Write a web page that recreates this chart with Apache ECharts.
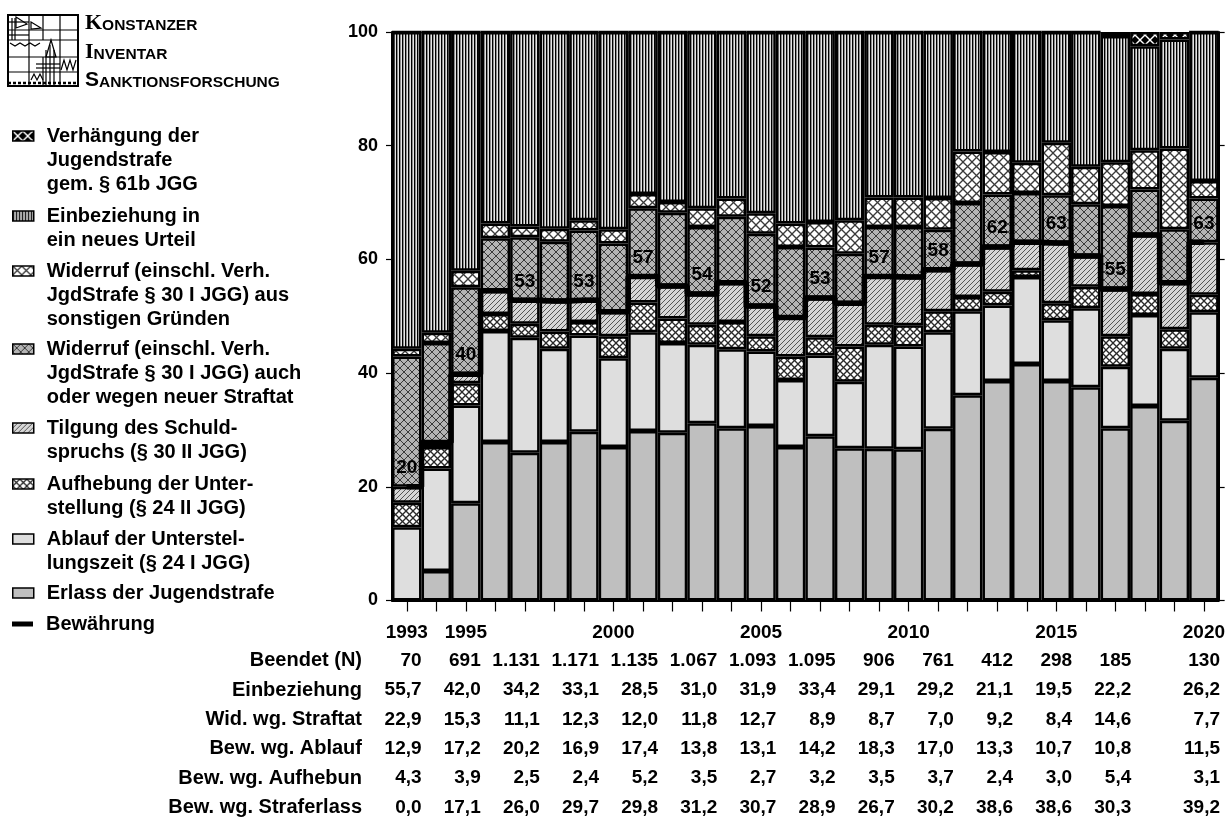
<!DOCTYPE html>
<html><head><meta charset="utf-8">
<script src="https://cdn.jsdelivr.net/npm/echarts@6/dist/echarts.min.js"></script>
<style>html,body{margin:0;padding:0;background:#fff}#c{width:1228px;height:822px}</style>
</head><body><div id="c"></div>
<script>
// ---------- DATA ----------
const years = ['1993','1994','1995','1996','1997','1998','1999','2000','2001','2002','2003','2004','2005','2006','2007','2008','2009','2010','2011','2012','2013','2014','2015','2016','2017','2018','2019','2020'];
const yearTickLabels = ['1993','1995','2000','2005','2010','2015','2020'];
const erlass       = [0.0, 5.2, 17.1, 27.9, 26.0, 27.9, 29.7, 27.0, 29.8, 29.5, 31.2, 30.3, 30.7, 27.0, 28.9, 26.8, 26.7, 26.6, 30.2, 36.1, 38.6, 41.6, 38.6, 37.5, 30.3, 34.2, 31.6, 39.2];
const ablauf       = [12.9, 18.0, 17.2, 19.5, 20.2, 16.4, 16.9, 15.6, 17.4, 15.8, 13.8, 13.9, 13.1, 11.8, 14.2, 11.7, 18.3, 18.1, 17.0, 14.8, 13.3, 15.3, 10.7, 13.9, 10.8, 16.0, 12.7, 11.5];
const aufhebung    = [4.3, 3.8, 3.9, 3.0, 2.5, 3.0, 2.4, 3.9, 5.2, 4.3, 3.5, 4.8, 2.7, 4.1, 3.2, 6.2, 3.5, 3.7, 3.7, 2.5, 2.4, 1.2, 3.0, 3.8, 5.4, 3.7, 3.4, 3.1];
const tilgung      = [2.8, 0.8, 1.6, 4.1, 4.1, 5.4, 3.8, 4.3, 4.6, 5.7, 5.4, 6.9, 5.3, 6.9, 6.9, 7.6, 8.5, 8.5, 7.3, 5.8, 7.9, 4.9, 10.6, 5.4, 8.3, 10.4, 8.2, 9.2];
const widStraftat  = [22.9, 17.5, 15.3, 9.2, 11.1, 10.4, 12.3, 12.0, 12.0, 12.9, 11.8, 11.6, 12.7, 12.4, 8.9, 8.7, 8.7, 8.8, 7.0, 10.7, 9.2, 8.7, 8.4, 9.1, 14.6, 8.0, 9.4, 7.7];
const widSonstige  = [1.4, 1.8, 2.9, 2.6, 1.9, 2.3, 1.8, 2.5, 2.5, 1.9, 3.3, 3.2, 3.6, 4.1, 4.5, 5.9, 5.2, 5.2, 5.6, 9.1, 7.5, 5.3, 9.2, 6.6, 7.7, 6.9, 14.2, 3.1];
const einbeziehung = [55.7, 52.9, 42.0, 33.7, 34.2, 34.6, 33.1, 34.7, 28.5, 29.9, 31.0, 29.3, 31.9, 33.7, 33.4, 33.1, 29.1, 29.1, 29.2, 21.0, 21.1, 23.0, 19.5, 23.7, 22.2, 18.3, 19.2, 26.2];
const verhaengung  = [0, 0, 0, 0, 0, 0, 0, 0, 0, 0, 0, 0, 0, 0, 0, 0, 0, 0, 0, 0, 0, 0, 0, 0, 0.7, 2.5, 1.3, 0];
const bewaehrung   = [20.0, 27.8, 39.8, 54.5, 52.8, 52.7, 52.8, 50.8, 57.0, 55.3, 53.9, 55.9, 51.8, 49.8, 53.2, 52.3, 57.0, 56.9, 58.2, 59.2, 62.2, 63.0, 62.9, 60.6, 54.8, 64.3, 55.9, 63.0];
const tableYears   = ['1993','1995','1997','1999','2001','2003','2005','2007','2009','2011','2013','2015','2017','2020'];
const beendetN     = [70, 691, 1131, 1171, 1135, 1067, 1093, 1095, 906, 761, 412, 298, 185, 130];
const tableRowNames = ['Beendet (N)', 'Einbeziehung', 'Wid. wg. Straftat', 'Bew. wg. Ablauf', 'Bew. wg. Aufhebun', 'Bew. wg. Straferlass'];
const legendText = {
  'Verhängung': 'Verhängung der\nJugendstrafe\ngem. § 61b JGG',
  'Einbeziehung': 'Einbeziehung in\nein neues Urteil',
  'WidSonstige': 'Widerruf (einschl. Verh.\nJgdStrafe § 30 I JGG) aus\nsonstigen Gründen',
  'WidStraftat': 'Widerruf (einschl. Verh.\nJgdStrafe § 30 I JGG) auch\noder wegen neuer Straftat',
  'Tilgung': 'Tilgung des Schuld-\nspruchs (§ 30 II JGG)',
  'Aufhebung': 'Aufhebung der Unter-\nstellung (§ 24 II JGG)',
  'Ablauf': 'Ablauf der Unterstel-\nlungszeit (§ 24 I JGG)',
  'Erlass': 'Erlass der Jugendstrafe',
  'Bewährung': 'Bewährung'
};

// ---------- PATTERNS ----------
const SANS = '"Liberation Sans", Arial, sans-serif';
function pattern(w, h, draw) {
  const c = document.createElement('canvas');
  c.width = w; c.height = h;
  const ctx = c.getContext('2d');
  draw(ctx, w, h);
  return { image: c, repeat: 'repeat' };
}
function cross(size, bg, fg, lw) {
  return pattern(size, size, (ctx, w) => {
    ctx.fillStyle = bg; ctx.fillRect(0, 0, w, w);
    ctx.strokeStyle = fg; ctx.lineWidth = lw;
    for (let k = -1; k <= 1; k++) {
      ctx.beginPath(); ctx.moveTo(k * w, 0); ctx.lineTo(k * w + w, w); ctx.stroke();
      ctx.beginPath(); ctx.moveTo(k * w, w); ctx.lineTo(k * w + w, 0); ctx.stroke();
    }
  });
}
const pVert = pattern(3, 4, (ctx, w, h) => {
  ctx.fillStyle = '#e4e4e4'; ctx.fillRect(0, 0, w, h);
  ctx.fillStyle = '#000'; ctx.fillRect(0, 0, 1, h);
  ctx.fillStyle = '#8c8c8c'; ctx.fillRect(1, 0, 1, h);
});
const pDiag = pattern(5, 5, (ctx, w) => {
  ctx.fillStyle = '#d6d6d6'; ctx.fillRect(0, 0, w, w);
  ctx.strokeStyle = '#555'; ctx.lineWidth = 1;
  for (let k = -1; k <= 1; k++) { ctx.beginPath(); ctx.moveTo(k * w, w); ctx.lineTo(k * w + w, 0); ctx.stroke(); }
});
const pStraftat = cross(8, '#b4b4b4', '#3a3a3a', 1);
const pSonstige = cross(9, '#ffffff', '#3a3a3a', 1.3);
const pAufhebung = cross(7, '#ffffff', '#2a2a2a', 1.3);
const pVerh = cross(10, '#000000', '#ffffff', 1.4);

// ---------- SERIES ----------
const barDefs = [
  ['Erlass', erlass, '#bfbfbf'],
  ['Ablauf', ablauf, '#dedede'],
  ['Aufhebung', aufhebung, pAufhebung],
  ['Tilgung', tilgung, pDiag],
  ['WidStraftat', widStraftat, pStraftat],
  ['WidSonstige', widSonstige, pSonstige],
  ['Einbeziehung', einbeziehung, pVert],
  ['Verhängung', verhaengung, pVerh]
];
const series = barDefs.map(([name, data, color]) => ({
  name, type: 'bar', stack: 'total', data,
  xAxisIndex: 0, yAxisIndex: 0,
  barCategoryGap: '0%',
  itemStyle: { color, borderColor: '#000', borderWidth: 2.5 },
  emphasis: { disabled: true },
  silent: true
}));
series.push({
  name: 'Bewährung', type: 'line', step: 'middle', z: 10,
  xAxisIndex: 0, yAxisIndex: 0,
  symbol: 'circle', symbolSize: 1, showSymbol: true,
  lineStyle: { color: '#000', width: 5.5 },
  itemStyle: { color: '#000' },
  emphasis: { disabled: true }, silent: true,
  data: bewaehrung.map((v, i) => ({
    value: v,
    label: {
      show: tableYears.includes(years[i]), position: 'top', distance: 9,
      formatter: p => String(Math.round(p.value)),
      fontFamily: SANS, fontWeight: 'bold', fontSize: 19, color: '#000'
    }
  }))
});

// table cells (custom series, positioned through the table grid's axes)
const fmtN = n => n >= 1000 ? Math.floor(n / 1000) + '.' + String(n % 1000).padStart(3, '0') : String(n);
const fmtP = v => v.toFixed(1).replace('.', ',');
const rowSources = [null, einbeziehung, widStraftat, ablauf, aufhebung, erlass];
const cells = [];
tableYears.forEach((y, c) => {
  const yi = years.indexOf(y);
  rowSources.forEach((src, r) => {
    cells.push({ yi, r, text: src ? fmtP(src[yi]) : fmtN(beendetN[c]) });
  });
});
series.push({
  type: 'custom', xAxisIndex: 1, yAxisIndex: 2, silent: true, clip: false,
  data: cells.map(c => [c.yi, c.r]),
  renderItem: (params, api) => {
    const cell = cells[params.dataIndex];
    const p = api.coord([api.value(0), api.value(1)]);
    const bw = api.size([1, 0])[0];
    return {
      type: 'text',
      style: {
        x: p[0] + bw / 2, y: p[1], text: cell.text,
        align: 'right', verticalAlign: 'middle',
        fontFamily: SANS, fontWeight: 'bold', fontSize: 19, fill: '#000'
      }
    };
  }
});

// ---------- LEGENDS ----------
const LH = 24;
const legendSpec = [
  ['Verhängung', 3, 136], ['Einbeziehung', 2, 216], ['WidSonstige', 3, 271],
  ['WidStraftat', 3, 349], ['Tilgung', 2, 428], ['Aufhebung', 2, 484],
  ['Ablauf', 2, 539], ['Erlass', 1, 593], ['Bewährung', 1, 624]
];
const legends = legendSpec.map(([key, lines, yc]) => ({
  show: true, data: [{ name: key, icon: 'rect' }],
  left: 12, top: yc - (2 * lines - 1) * LH / 2, orient: 'vertical', padding: 0,
  itemWidth: 21, itemHeight: key === 'Bewährung' ? 5 : 10,
  selectedMode: false,
  formatter: n => '\n'.repeat(lines - 1) + legendText[n],
  textStyle: {
    fontFamily: SANS, fontSize: 20, fontWeight: 'bold', color: '#000',
    lineHeight: LH, padding: [0, 0, 0, 8]
  },
  itemStyle: key === 'Bewährung' ? { borderWidth: 0 } : { borderColor: '#000', borderWidth: 1.5 }
}));

// ---------- LOGO ----------
const L = (x1, y1, x2, y2, w) => ({ type: 'line', shape: { x1, y1, x2, y2 }, style: { stroke: '#000', lineWidth: w || 1.2 }, silent: true });
const logo = [
  { type: 'rect', shape: { x: 8, y: 15, width: 70, height: 71 }, style: { fill: '#fff', stroke: '#000', lineWidth: 2 }, silent: true },
  L(29, 15, 29, 86), L(43, 15, 43, 40), L(60, 15, 60, 86), L(8, 30, 78, 30),
  L(8, 40, 78, 40), L(8, 57, 78, 57), L(8, 72, 78, 72), L(43, 57, 43, 86),
  L(46, 50, 46, 86), L(50, 45, 50, 86), L(54, 50, 54, 86), L(36, 64, 60, 64), L(36, 68, 60, 68),
  L(12, 18, 12, 40), L(15, 18, 15, 40), L(8, 35, 29, 35), L(8, 22, 29, 22),
  { type: 'polygon', shape: { points: [[46, 57], [51, 40], [56, 57]] }, style: { fill: 'none', stroke: '#000', lineWidth: 1.2 }, silent: true },
  { type: 'polygon', shape: { points: [[16, 17], [27, 24], [16, 28]] }, style: { fill: 'none', stroke: '#000', lineWidth: 1.2 }, silent: true },
  { type: 'polygon', shape: { points: [[31, 22], [41, 28], [31, 29]] }, style: { fill: 'none', stroke: '#000', lineWidth: 1.2 }, silent: true },
  { type: 'polyline', shape: { points: [[10, 43], [15, 46], [20, 43], [25, 46], [30, 43], [35, 46], [40, 43]] }, style: { fill: 'none', stroke: '#000', lineWidth: 1.2 }, silent: true },
  { type: 'polyline', shape: { points: [[31, 80], [34, 74], [37, 80], [40, 74], [43, 80]] }, style: { fill: 'none', stroke: '#000', lineWidth: 1.2 }, silent: true },
  { type: 'polyline', shape: { points: [[61, 70], [64, 60], [67, 70], [70, 60], [73, 70], [76, 60]] }, style: { fill: 'none', stroke: '#000', lineWidth: 1.2 }, silent: true },
  { type: 'line', shape: { x1: 8, y1: 83, x2: 78, y2: 83 }, style: { stroke: '#000', lineWidth: 2.5, lineDash: [3, 2] }, silent: true }
];
const richLogo = {
  a: { fontFamily: '"Liberation Serif", serif', fontWeight: 'bold', fontSize: 22, lineHeight: 22, verticalAlign: 'bottom', color: '#000' },
  s: { fontFamily: SANS, fontWeight: 'bold', fontSize: 21, lineHeight: 22, verticalAlign: 'bottom', color: '#000' },
  b: { fontFamily: SANS, fontWeight: 'bold', fontSize: 15.5, lineHeight: 17, verticalAlign: 'bottom', color: '#000' }
};
const logoTexts = [
  ['{a|K}{b|ONSTANZER}', 23], ['{a|I}{b|NVENTAR}', 52], ['{s|S}{b|ANKTIONSFORSCHUNG}', 80]
].map(([t, y]) => ({ type: 'text', x: 85, y, style: { text: t, rich: richLogo, verticalAlign: 'middle', align: 'left' }, silent: true }));

// ---------- CHART ----------
const chart = echarts.init(document.getElementById('c'), null, { renderer: 'canvas' });
chart.setOption({
  animation: false,
  backgroundColor: '#fff',
  textStyle: { fontFamily: SANS },
  legend: legends,
  grid: [
    { left: 392, right: 8, top: 32, height: 568.5, containLabel: false },
    { left: 392, right: 8, top: 646, height: 180, containLabel: false }
  ],
  xAxis: [
    {
      type: 'category', gridIndex: 0, data: years, boundaryGap: true,
      axisLine: { show: true, lineStyle: { color: '#000', width: 2 } },
      axisTick: { show: true, alignWithLabel: true, interval: 0, length: 11, lineStyle: { color: '#000', width: 1.2 } },
      axisLabel: {
        show: true, interval: (i, v) => yearTickLabels.includes(v), margin: 23,
        fontFamily: SANS, fontWeight: 'bold', fontSize: 19, color: '#000'
      },
      splitLine: { show: false }
    },
    { type: 'category', gridIndex: 1, data: years, boundaryGap: true, show: false }
  ],
  yAxis: [
    {
      type: 'value', gridIndex: 0, min: 0, max: 100, interval: 20, position: 'left',
      axisLine: { show: true, lineStyle: { color: '#000', width: 2 } },
      axisTick: { show: true, inside: false, length: 6, lineStyle: { color: '#000', width: 1.2 } },
      axisLabel: { show: true, margin: 14, fontFamily: SANS, fontWeight: 'bold', fontSize: 18, color: '#000' },
      splitLine: { show: false }
    },
    {
      type: 'value', gridIndex: 0, min: 0, max: 100, interval: 20, position: 'right',
      axisLine: { show: true, lineStyle: { color: '#000', width: 2 } },
      axisTick: { show: true, inside: false, length: 6, lineStyle: { color: '#000', width: 1.2 } },
      axisLabel: { show: false }, splitLine: { show: false }
    },
    {
      type: 'category', gridIndex: 1, data: tableRowNames, inverse: true,
      axisLine: { show: false }, axisTick: { show: false }, splitLine: { show: false },
      axisLabel: { show: true, margin: 30, fontFamily: SANS, fontWeight: 'bold', fontSize: 20, color: '#000' }
    }
  ],
  graphic: logo.concat(logoTexts),
  series
});
</script>
</body></html>
